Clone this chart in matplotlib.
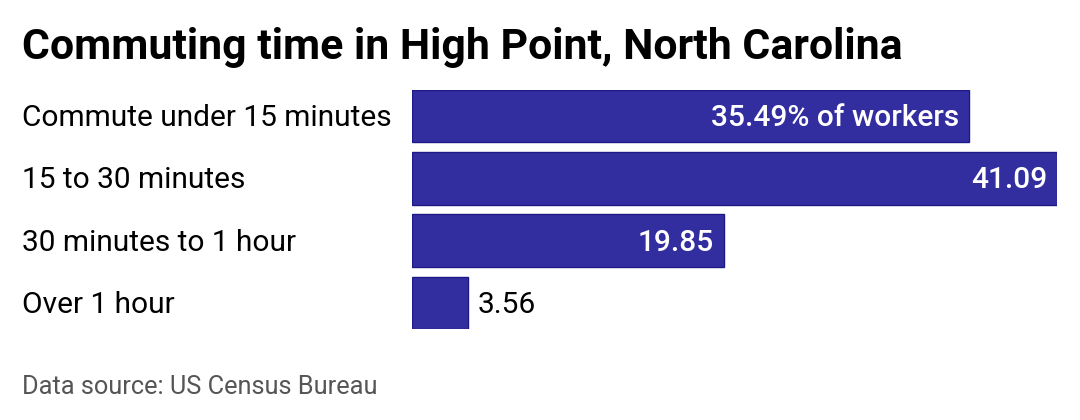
import numpy as np
import matplotlib.pyplot as plt

plt.rcParams['font.family'] = ['Roboto', 'DejaVu Sans']

categories = ["Commute under 15 minutes", "15 to 30 minutes",
              "30 minutes to 1 hour", "Over 1 hour"]
shares = [35.49, 41.09, 19.85, 3.56]
value_labels = ["35.49% of workers", "41.09", "19.85", "3.56"]

title = "Commuting time in High Point, North Carolina"
source = "Data source: US Census Bureau"

fig = plt.figure(figsize=(10.8, 4.2), dpi=100)
ax = fig.add_axes([412 / 1080, 1 - 329 / 420, (1057 - 412) / 1080, (329 - 90) / 420])

y = np.arange(len(categories))
bars = ax.barh(y, shares, height=0.84, color='#332e9f', edgecolor='#1d1a87', linewidth=1)
ax.set_xlim(0, max(shares))
ax.set_ylim(len(categories) - 0.58, -0.42)
ax.axis('off')

# values inside the bar when there is room, otherwise just outside
for yi, v, lab in zip(y, shares, value_labels):
    if v > 10:
        ax.annotate(lab, (v, yi), xytext=(-7, -1.5), textcoords='offset points',
                    ha='right', va='center', color='white', fontsize=21.5,
                    fontweight='medium')
    else:
        ax.annotate(lab, (v, yi), xytext=(7, -1.5), textcoords='offset points',
                    ha='left', va='center', color='black', fontsize=21.5)

# category labels on the left
for yi, cat in zip(y, categories):
    ax.annotate(cat, (0, yi), xycoords=('figure fraction', 'data'),
                xytext=(22 * 0.72, -1.5), textcoords='offset points',
                ha='left', va='center', fontsize=21.5, color='black')

fig.text(22 / 1080, 1 - 47 / 420, title, fontsize=30.8, fontweight='bold',
         ha='left', va='center', color='black')
fig.text(22 / 1080, 1 - 387 / 420, source, fontsize=18.3, color='#555555',
         ha='left', va='center')

fig.savefig('out.png', dpi=100)
